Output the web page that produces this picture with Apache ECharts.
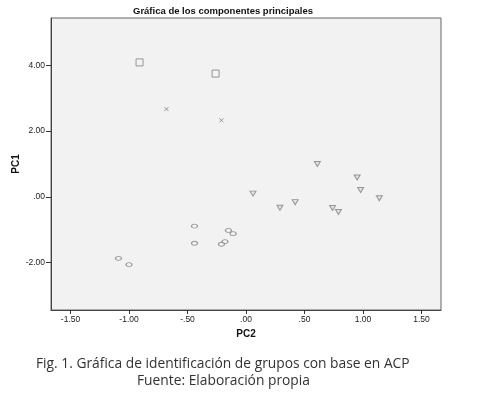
<!DOCTYPE html>
<html>
<head>
<meta charset="utf-8">
<script src="https://cdn.jsdelivr.net/npm/echarts@6/dist/echarts.min.js"></script>
<style>
html,body{margin:0;padding:0;background:#fff;}
#chart{width:480px;height:393px;}
</style>
</head>
<body>
<div id="chart"></div>
<script>
// Data (PC2 = x, PC1 = y)
const groupSquares = [[-0.91, 4.09], [-0.26, 3.75]];
const groupCrosses = [[-0.68, 2.67], [-0.21, 2.33]];
const groupEllipses = [[-0.44, -0.89], [-0.44, -1.41], [-0.15, -1.02], [-0.11, -1.12],
  [-0.18, -1.36], [-0.21, -1.44], [-1.09, -1.87], [-1.00, -2.06]];
const groupTriangles = [[0.61, 1.00], [0.95, 0.59], [0.98, 0.21], [1.14, -0.04],
  [0.06, 0.10], [0.29, -0.33], [0.42, -0.16], [0.74, -0.34], [0.79, -0.46]];
const xTickValues = [-1.5, -1.0, -0.5, 0, 0.5, 1.0, 1.5];
const yTickValues = [-2, 0, 2, 4];
const xRange = [-1.667, 1.667];
const yRange = [-3.44, 5.44];

function spssFmt(v) {
  let s = Math.abs(v).toFixed(2);
  if (s.startsWith('0')) s = s.slice(1);
  return (v < 0 ? '-' : '') + s;
}

const markerColor = '#808080';
const chart = echarts.init(document.getElementById('chart'), null, {renderer: 'canvas'});
const axisFont = {fontFamily: 'Liberation Sans', fontSize: 8.5, color: '#222'};

chart.setOption({
  animation: false,
  backgroundColor: '#ffffff',
  title: [
    {text: 'Gráfica de los componentes principales', left: 133, top: 6, padding: 0,
     textStyle: {fontFamily: 'Liberation Sans', fontSize: 9.5, fontWeight: 'bold', color: '#111'}},
    {text: 'Fig. 1. Gráfica de identificación de grupos con base en ACP', left: 36, top: 357, padding: 0,
     textStyle: {fontFamily: 'Open Sans', fontSize: 13.8, fontWeight: 'normal', color: '#333'}},
    {text: 'Fuente: Elaboración propia', left: 137, top: 374, padding: 0,
     textStyle: {fontFamily: 'Open Sans', fontSize: 13.8, fontWeight: 'normal', color: '#333'}}
  ],
  grid: {left: 51, right: 39, top: 18, bottom: 83, show: true, outerBoundsMode: 'none', containLabel: false,
         backgroundColor: '#f2f2f2', borderColor: '#666', borderWidth: 1},
  xAxis: {
    type: 'value', min: xRange[0], max: xRange[1],
    name: 'PC2', nameLocation: 'middle', nameGap: 19, nameMoveOverlap: false,
    nameTextStyle: {fontFamily: 'Liberation Sans', fontSize: 10, fontWeight: 'bold', color: '#111'},
    axisLine: {show: true, onZero: false, lineStyle: {color: '#444', width: 1}},
    axisTick: {show: true, length: 4, customValues: xTickValues, lineStyle: {color: '#333'}},
    axisLabel: {customValues: xTickValues, margin: 5, formatter: spssFmt, ...axisFont},
    splitLine: {show: false}
  },
  yAxis: {
    type: 'value', min: yRange[0], max: yRange[1],
    name: 'PC1', nameLocation: 'middle', nameGap: 30, nameRotate: 90, nameMoveOverlap: false,
    nameTextStyle: {fontFamily: 'Liberation Sans', fontSize: 10, fontWeight: 'bold', color: '#111'},
    axisLine: {show: true, onZero: false, lineStyle: {color: '#444', width: 1}},
    axisTick: {show: true, length: 5, customValues: yTickValues, lineStyle: {color: '#333'}},
    axisLabel: {customValues: yTickValues, margin: 6, formatter: spssFmt, ...axisFont},
    splitLine: {show: false}
  },
  series: [
    {type: 'scatter', data: groupSquares, symbol: 'rect', symbolSize: 7,
     itemStyle: {color: '#f2f2f2', borderColor: markerColor, borderWidth: 1}},
    {type: 'scatter', data: groupCrosses, symbol: 'path://M0,0 L10,10 M10,0 L0,10', symbolSize: 4,
     itemStyle: {color: 'none', borderColor: markerColor, borderWidth: 1}},
    {type: 'scatter', data: groupEllipses,
     symbol: 'path://M0,3 A4,3 0 1,1 8,3 A4,3 0 1,1 0,3 Z', symbolSize: [6, 4],
     itemStyle: {color: '#f2f2f2', borderColor: markerColor, borderWidth: 1}},
    {type: 'scatter', data: groupTriangles,
     symbol: 'path://M0,0 L10,0 L5,9 Z', symbolSize: [6, 5],
     itemStyle: {color: '#e0e0e0', borderColor: markerColor, borderWidth: 1}}
  ]
});
</script>
</body>
</html>
